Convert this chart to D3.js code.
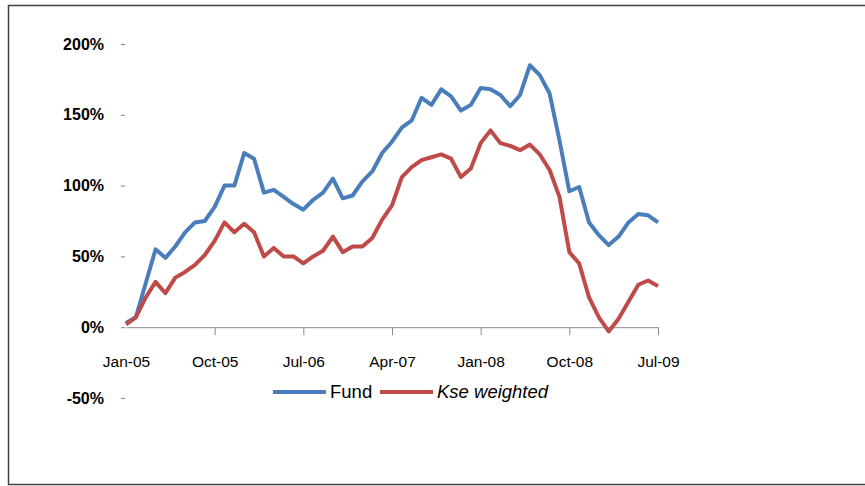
<!DOCTYPE html>
<html>
<head>
  <meta charset="utf-8">
  <style>
  body { margin: 0; background: #fff; }
  text { font-family: "Liberation Sans", Arial, sans-serif; fill: #000; }
  .line { fill: none; stroke-width: 4; stroke-linejoin: round; }
  </style>
</head>
<body>
  <div id="chart"></div>
  <script src="https://d3js.org/d3.v7.min.js"></script>
  <script>
    var width = 865, height = 486;

    // monthly, Jan-05 .. Jul-09 (55 points), values in %
    var months = d3.timeMonths(new Date(2005, 0, 1), new Date(2009, 7, 1));
    var fund = [3, 7, 31, 55, 49, 57, 67, 74, 75, 85, 100, 100, 123, 119, 95, 97, 92, 87, 83, 90,
                95, 105, 91, 93, 103, 110, 123, 131, 141, 146, 162, 157, 168, 163, 153, 157, 169, 168,
                164, 156, 164, 185, 178, 165, 132, 96, 99, 74, 65, 58, 64, 74, 80, 79, 74];
    var kse = [2, 7, 21, 32, 24, 35, 39, 44, 51, 61, 74, 67, 73, 67, 50, 56, 50, 50, 45, 50,
               54, 64, 53, 57, 57, 63, 76, 86, 106, 113, 118, 120, 122, 119, 106, 112, 130, 139,
               130, 128, 125, 129, 122, 111, 92, 53, 45, 21, 7, -3, 6, 18, 30, 33, 29];
    var yTicks = [-50, 0, 50, 100, 150, 200];
    var xTickMonths = [0, 9, 18, 27, 36, 45, 54];
    var seriesNames = ["Fund", "Kse weighted"];
    var seriesColors = ["#4a7ebb", "#be4b48"];

    var svg = d3.select("#chart").append("svg")
        .attr("width", width).attr("height", height);

    // outer frame
    svg.append("rect")
        .attr("x", 8.5).attr("y", 5.5)
        .attr("width", 880).attr("height", 479)
        .attr("fill", "none").attr("stroke", "#404040").attr("stroke-width", 1.5);

    var x = d3.scaleLinear().domain([0, months.length - 1]).range([126, 658]);
    var y = d3.scaleLinear().domain([-50, 200]).range([398, 44]);
    var fmt = d3.timeFormat("%b-%y");

    // y axis: tick dashes only, no axis line
    var yAxis = svg.append("g")
        .attr("transform", "translate(126,0)")
        .call(d3.axisLeft(y).tickValues(yTicks).tickSize(0).tickPadding(22)
          .tickFormat(function(d) { return d + "%"; }));
    yAxis.select(".domain").remove();
    yAxis.selectAll("text")
        .attr("font-size", 16).attr("font-weight", "bold")
        .attr("font-family", "'Liberation Sans', Arial, sans-serif");
    yAxis.selectAll(".tick").append("line")
        .attr("x1", -5).attr("x2", -1)
        .attr("stroke", "#808080").attr("stroke-width", 1);

    // x axis at 0%
    var xAxis = svg.append("g")
        .attr("transform", "translate(0," + y(0) + ")")
        .call(d3.axisBottom(x).tickValues(xTickMonths).tickSize(8).tickSizeOuter(0).tickPadding(21)
          .tickFormat(function(i) { return fmt(months[i]); }));
    xAxis.select(".domain").attr("stroke", "#8c8c8c");
    xAxis.selectAll(".tick line").attr("stroke", "#8c8c8c");
    xAxis.selectAll(".tick").filter(function(d) { return d === 0; }).select("line").remove();
    xAxis.selectAll("text")
        .attr("font-size", 15.5)
        .attr("font-family", "'Liberation Sans', Arial, sans-serif");

    var line = d3.line()
        .x(function(d, i) { return x(i); })
        .y(function(d) { return y(d); });

    [fund, kse].forEach(function(s, k) {
      svg.append("path")
          .datum(s)
          .attr("class", "line")
          .attr("stroke", seriesColors[k])
          .attr("d", line);
    });

    // legend
    var legend = svg.append("g").attr("transform", "translate(273,392)");
    var lx = [0, 107];
    seriesNames.forEach(function(name, k) {
      var g = legend.append("g").attr("transform", "translate(" + lx[k] + ",0)");
      g.append("line")
          .attr("x1", 0).attr("x2", 53)
          .attr("stroke", seriesColors[k]).attr("stroke-width", 4);
      g.append("text")
          .attr("x", 57).attr("y", 6)
          .attr("font-size", 18.5)
          .attr("font-style", k === 1 ? "italic" : "normal")
          .text(name);
    });
  </script>
</body>
</html>
